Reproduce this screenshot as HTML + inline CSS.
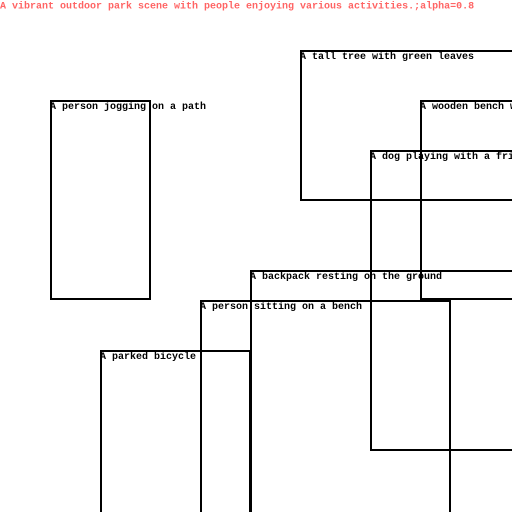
<!DOCTYPE html>
<html><head><style>
html,body{margin:0;padding:0;background:#fff;width:512px;height:512px;overflow:hidden}
svg text{font-family:"Liberation Mono","DejaVu Sans Mono",monospace;font-weight:bold;font-size:10px}
</style></head><body>
<svg width="512" height="512" xmlns="http://www.w3.org/2000/svg">
<text x="0" y="8.5" fill="#ff6464">A vibrant outdoor park scene with people enjoying various activities.;alpha=0.8</text>
<g fill="none" stroke="#000" stroke-width="2">
<rect x="51" y="101" width="99" height="198"/>
<rect x="301" y="51" width="220" height="149"/>
<rect x="421" y="101" width="100" height="198"/>
<rect x="371" y="151" width="150" height="299"/>
<rect x="251" y="271" width="270" height="260"/>
<rect x="201" y="301" width="249" height="230"/>
<rect x="101" y="351" width="149" height="180"/>
</g>
<g fill="#000">
<text x="50" y="109">A person jogging on a path</text>
<text x="300" y="59">A tall tree with green leaves</text>
<text x="420" y="109">A wooden bench w</text>
<text x="370" y="159">A dog playing with a fri</text>
<text x="250" y="279">A backpack resting on the ground</text>
<text x="200" y="309">A person sitting on a bench</text>
<text x="100" y="359">A parked bicycle</text>
</g>
</svg>
</body></html>
